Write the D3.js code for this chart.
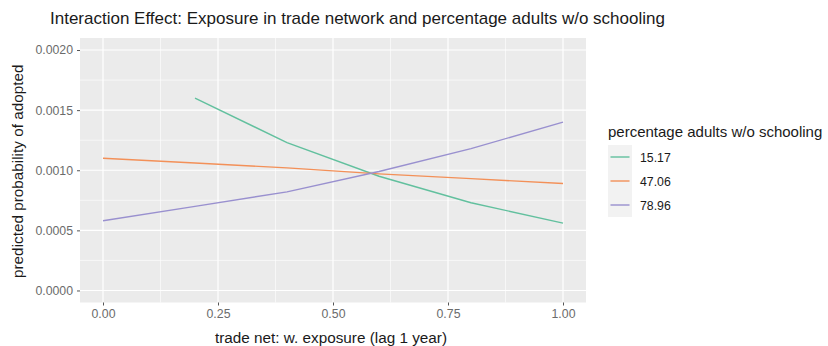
<!DOCTYPE html>
<html>
<head>
<meta charset="utf-8">
<script src="https://cdn.jsdelivr.net/npm/d3@7"></script>
<style>
  html, body { margin: 0; padding: 0; background: #ffffff; }
  svg { display: block; font-family: "Liberation Sans", Arial, sans-serif; }
</style>
</head>
<body>
<svg id="chart" width="828" height="346"></svg>
<script>
// Predicted probability of adoption across trade-network exposure,
// for three levels of the share of adults without schooling.
const exposure = [0.0, 0.2, 0.4, 0.6, 0.8, 1.0];
const groupLabels = ["15.17", "47.06", "78.96"];
const group1517 = [null, 0.00160, 0.00123, 0.00095, 0.00073, 0.00056];
const group4706 = [0.00110, 0.00106, 0.00102, 0.00097, 0.00093, 0.00089];
const group7896 = [0.00058, 0.00070, 0.00082, 0.00099, 0.00118, 0.00140];
const groupColors = ["#62c09e", "#f39058", "#9990cf"];
const xTicks = [0, 0.25, 0.5, 0.75, 1.0];
const yTicks = [0, 0.0005, 0.0010, 0.0015, 0.0020];

const seriesList = [group1517, group4706, group7896].map((vals, i) => ({
  label: groupLabels[i],
  color: groupColors[i],
  points: exposure.map((x, j) => ({ x, y: vals[j] })).filter(d => d.y !== null)
}));

const svg = d3.select("#chart");
const panel = { left: 80, right: 586, top: 38, bottom: 302.5 };

// ggplot-style 5% expansion around the data range
const xScale = d3.scaleLinear().domain([-0.05, 1.05]).range([panel.left, panel.right]);
const yScale = d3.scaleLinear().domain([-0.0001, 0.0021]).range([panel.bottom, panel.top]);

// panel background
svg.append("rect")
  .attr("x", panel.left).attr("y", panel.top)
  .attr("width", panel.right - panel.left).attr("height", panel.bottom - panel.top)
  .attr("fill", "#ebebeb");

// minor grid
const xMinor = [0.125, 0.375, 0.625, 0.875];
const yMinor = [0.00025, 0.00075, 0.00125, 0.00175];
svg.append("g").selectAll("line").data(xMinor).join("line")
  .attr("x1", d => xScale(d)).attr("x2", d => xScale(d))
  .attr("y1", panel.top).attr("y2", panel.bottom)
  .attr("stroke", "#ffffff").attr("stroke-width", 0.6);
svg.append("g").selectAll("line").data(yMinor).join("line")
  .attr("y1", d => yScale(d)).attr("y2", d => yScale(d))
  .attr("x1", panel.left).attr("x2", panel.right)
  .attr("stroke", "#ffffff").attr("stroke-width", 0.6);

// major grid
svg.append("g").selectAll("line").data(xTicks).join("line")
  .attr("x1", d => xScale(d)).attr("x2", d => xScale(d))
  .attr("y1", panel.top).attr("y2", panel.bottom)
  .attr("stroke", "#ffffff").attr("stroke-width", 1.2);
svg.append("g").selectAll("line").data(yTicks).join("line")
  .attr("y1", d => yScale(d)).attr("y2", d => yScale(d))
  .attr("x1", panel.left).attr("x2", panel.right)
  .attr("stroke", "#ffffff").attr("stroke-width", 1.2);

// axes
const xAxis = d3.axisBottom(xScale).tickValues(xTicks).tickFormat(d3.format(".2f"))
  .tickSizeInner(3).tickSizeOuter(0).tickPadding(4);
const yAxis = d3.axisLeft(yScale).tickValues(yTicks).tickFormat(d3.format(".4f"))
  .tickSizeInner(3).tickSizeOuter(0).tickPadding(4);

const gx = svg.append("g").attr("transform", `translate(0,${panel.bottom})`).call(xAxis);
const gy = svg.append("g").attr("transform", `translate(${panel.left},0)`).call(yAxis);
[gx, gy].forEach(g => {
  g.select(".domain").remove();
  g.selectAll(".tick line").attr("stroke", "#555555").attr("stroke-width", 1);
  g.selectAll(".tick text").attr("fill", "#6b6b6b").style("font-size", "12.3px")
    .style("font-family", "'Liberation Sans', Arial, sans-serif");
});

// lines
const lineGen = d3.line().x(d => xScale(d.x)).y(d => yScale(d.y));
svg.append("g").selectAll("path").data(seriesList).join("path")
  .attr("d", d => lineGen(d.points))
  .attr("fill", "none")
  .attr("stroke", d => d.color)
  .attr("stroke-width", 1.4);

// title and axis titles
svg.append("text")
  .attr("x", 50).attr("y", 24)
  .attr("fill", "#1a1a1a").style("font-size", "17px")
  .text("Interaction Effect: Exposure in trade network and percentage adults w/o schooling");

svg.append("text")
  .attr("x", 331).attr("y", 343)
  .attr("text-anchor", "middle")
  .attr("fill", "#1a1a1a").style("font-size", "15.3px")
  .text("trade net: w. exposure (lag 1 year)");

svg.append("text")
  .attr("transform", `translate(23,${(panel.top + panel.bottom) / 2 + 1}) rotate(-90)`)
  .attr("text-anchor", "middle")
  .attr("fill", "#1a1a1a").style("font-size", "15.3px")
  .text("predicted probability of adopted");

// legend
const legend = svg.append("g").attr("transform", "translate(608,0)");
legend.append("text")
  .attr("x", 0).attr("y", 137)
  .attr("fill", "#1a1a1a").style("font-size", "15px")
  .text("percentage adults w/o schooling");

const keyTop = 145, keySize = 24;
const keys = legend.selectAll("g.key").data(seriesList).join("g")
  .attr("class", "key")
  .attr("transform", (d, i) => `translate(0,${keyTop + i * keySize})`);
keys.append("rect")
  .attr("width", keySize).attr("height", keySize)
  .attr("fill", "#f2f2f2");
keys.append("line")
  .attr("x1", 2.5).attr("x2", keySize - 2.5)
  .attr("y1", keySize / 2).attr("y2", keySize / 2)
  .attr("stroke", d => d.color).attr("stroke-width", 1.4);
keys.append("text")
  .attr("x", keySize + 8).attr("y", keySize / 2 + 4.5)
  .attr("fill", "#1a1a1a").style("font-size", "12.3px")
  .text(d => d.label);
</script>
</body>
</html>
